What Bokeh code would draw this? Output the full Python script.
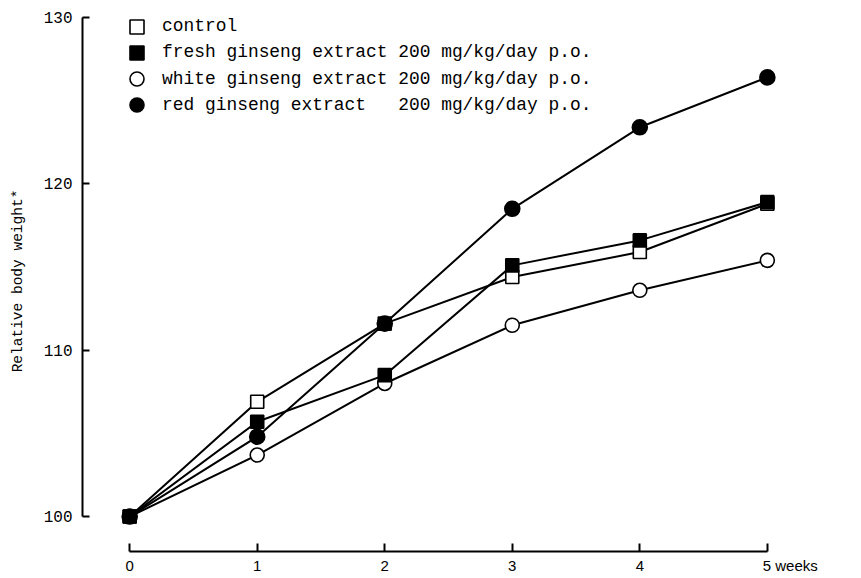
from bokeh.plotting import figure
from bokeh.models import Range1d, Legend, LegendItem, FixedTicker
from bokeh.embed import file_html
from bokeh.resources import INLINE

weeks = [0, 1, 2, 3, 4, 5]
control = [100, 106.9, 111.6, 114.4, 115.9, 118.8]
fresh = [100, 105.7, 108.5, 115.1, 116.6, 118.9]
white = [100, 103.7, 108.0, 111.5, 113.6, 115.4]
red = [100, 104.8, 111.6, 118.5, 123.4, 126.4]

labels = [
    "control",
    "fresh ginseng extract 200 mg/kg/day p.o.",
    "white ginseng extract 200 mg/kg/day p.o.",
    "red ginseng extract\u00a0\u00a0 200 mg/kg/day p.o.",
]
y_ticks = [100, 110, 120, 130]
x_ticks = [0, 1, 2, 3, 4, 5]
x_unit = "weeks"

MONO = "Liberation Mono"

p = figure(width=855, height=576, output_backend="svg", toolbar_location=None,
           x_range=Range1d(-0.37, 5.26), y_range=Range1d(97.9, 130.42),
           min_border_left=82, min_border_right=55, min_border_top=10, min_border_bottom=23)
p.outline_line_color = None
p.xgrid.visible = False
p.ygrid.visible = False

# lines
for ys in (control, fresh, white, red):
    p.line(weeks, ys, line_color="black", line_width=2)

r_control = p.scatter(weeks, control, marker="square", size=13, fill_color="white",
                      line_color="black", line_width=1.6)
r_white = p.scatter(weeks, white, marker="circle", size=14, fill_color="white",
                    line_color="black", line_width=1.6)
r_fresh = p.scatter(weeks, fresh, marker="square", size=13, fill_color="black",
                    line_color="black", line_width=1.6)
r_red = p.scatter(weeks, red, marker="circle", size=15, fill_color="black",
                  line_color="black", line_width=1.6)

# one legend per row so that rows can sit closer than the glyph box
row_renderers = [r_control, r_fresh, r_white, r_red]
row_pitch = 26.3
for i, (lab, rr) in enumerate(zip(labels, row_renderers)):
    lg = Legend(items=[LegendItem(label=lab, renderers=[rr])],
                location=(37, 507.5 - i * row_pitch))
    lg.background_fill_alpha = 0
    lg.border_line_color = None
    lg.padding = 5
    lg.margin = 0
    lg.spacing = 0
    lg.glyph_width = 35
    lg.glyph_height = 35
    lg.label_height = 20
    lg.label_standoff = 8
    lg.label_text_font = MONO
    lg.label_text_font_size = "17.9px"
    lg.label_text_color = "black"
    p.add_layout(lg, "center")

# y axis
ya = p.yaxis[0]
ya.bounds = (100, 130)
ya.ticker = FixedTicker(ticks=y_ticks)
ya.minor_tick_line_color = None
ya.major_tick_in = 7
ya.major_tick_out = 0
ya.major_tick_line_width = 2
ya.axis_line_width = 2
ya.major_label_text_font = MONO
ya.major_label_text_font_size = "16px"
ya.major_label_text_color = "black"
ya.major_label_standoff = 10
ya.axis_label = "Relative body weight*"
ya.axis_label_text_font = MONO
ya.axis_label_text_font_size = "14.5px"
ya.axis_label_text_font_style = "normal"
ya.axis_label_text_color = "black"
ya.axis_label_standoff = 15

# x axis
xa = p.xaxis[0]
xa.bounds = (0, 5)
xa.ticker = FixedTicker(ticks=x_ticks)
xa.minor_tick_line_color = None
xa.major_tick_in = 8
xa.major_tick_out = 0
xa.major_tick_line_width = 2
xa.axis_line_width = 2
xa.major_label_text_font = "Liberation Sans"
xa.major_label_text_font_size = "15px"
xa.major_label_text_color = "black"
xa.major_label_standoff = 5
pad = "\u00a0" * 11
xa.major_label_overrides = {x_ticks[-1]: pad + str(x_ticks[-1]) + " " + x_unit}

open("out.html", "w").write(file_html(p, INLINE))
